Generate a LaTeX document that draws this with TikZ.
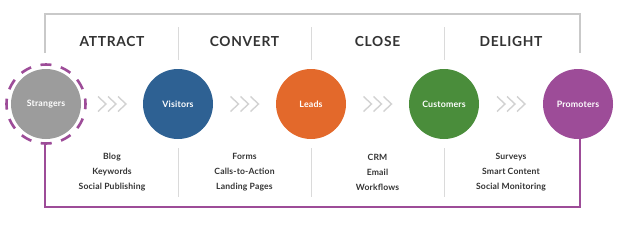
\documentclass[tikz,border=0pt]{standalone}
\usepackage{fontspec}
\setmainfont{Lato}
\newfontfamily\headfont[LetterSpace=5]{Lato}
\newfontfamily\smallfont[LetterSpace=2]{Lato}
\usetikzlibrary{arrows.meta}
\definecolor{cstr}{HTML}{9C9C9C}
\definecolor{cvis}{HTML}{2E6193}
\definecolor{clead}{HTML}{E3692B}
\definecolor{ccust}{HTML}{4A8D3B}
\definecolor{cprom}{HTML}{9D4C98}
\definecolor{cline}{HTML}{C9C9C9}
\definecolor{cdiv}{HTML}{DADADA}
\definecolor{cchev}{HTML}{D2D2D2}
\definecolor{ctext}{HTML}{333333}
\begin{document}
\begin{tikzpicture}[x=1pt,y=-1pt,
  stage/.style={circle,minimum size=70pt,inner sep=0pt,text=white,font=\smallfont\bfseries\fontsize{8.8}{10}\selectfont},
  head/.style={text=ctext,font=\headfont\bfseries\fontsize{13.8}{16}\selectfont},
  tools/.style={text=ctext,align=center,font=\smallfont\bfseries\fontsize{8.6}{15}\selectfont},
  divider/.style={cdiv,line width=1pt},
  chev/.style={cchev,line width=1.4pt},
  bracket/.style={cline,line width=2.2pt},
  loop/.style={cprom,line width=2.2pt}]
\useasboundingbox (0,0) rectangle (617,228);
% stages
\node[stage,fill=cstr] (str) at (46,104) {Strangers};
\node[stage,fill=cvis] (vis) at (178,104) {Visitors};
\node[stage,fill=clead] (lead) at (311,104) {Leads};
\node[stage,fill=ccust] (cust) at (444,104) {Customers};
\node[stage,fill=cprom] (prom) at (578,104) {Promoters};
% dashed ring
\node[circle,minimum size=79pt,inner sep=0pt,draw=cprom,line width=2.6pt,dash pattern=on 11pt off 9.7pt,dash phase=5.5pt] (ring) at (46,104) {};
% headings
\node[head] (h1) at (112,42) {ATTRACT};
\node[head] (h2) at (244.5,42) {CONVERT};
\node[head] (h3) at (377.5,42) {CLOSE};
\node[head] (h4) at (511,42) {DELIGHT};
% tools
\node[tools] (t1) at (112,172) {Blog\\Keywords\\Social Publishing};
\node[tools] (t2) at (244.5,172) {Forms\\Calls-to-Action\\Landing Pages};
\node[tools] (t3) at (377.5,172) {CRM\\Email\\Workflows};
\node[tools] (t4) at (511,172) {Surveys\\Smart Content\\Social Monitoring};
% dividers
\foreach \x/\n in {178/a,311/b,444/c}{
  \coordinate (dt\n1) at (\x,27); \coordinate (dt\n2) at (\x,60);
  \coordinate (db\n1) at (\x,148); \coordinate (db\n2) at (\x,197);
  \draw[divider] (dt\n1) -- (dt\n2);
  \draw[divider] (db\n1) -- (db\n2);
}
% chevrons
\foreach \cx in {112,244.5,377.5,511}{
  \foreach \k in {-10,0,10}{
    \draw[chev] (\cx+\k-4,96.5) -- (\cx+\k+4,104) -- (\cx+\k-4,111.5);
  }
}
% top bracket
\coordinate (gl) at (45,53);
\coordinate (gtl) at (45,14);
\coordinate (gtr) at (580,14);
\coordinate (gr) at (580,53);
\draw[bracket] (gl) -- (gtl) -- (gtr) -- (gr);
% bottom loop
\coordinate (pbr) at (580,207);
\coordinate (pbl) at (45,207);
\coordinate (ptee) at (45,142);
\draw[loop,-{Bar[width=9pt,line width=2.2pt]}] (580,138) -- (pbr) -- (pbl) -- (ptee);
\end{tikzpicture}
\end{document}
